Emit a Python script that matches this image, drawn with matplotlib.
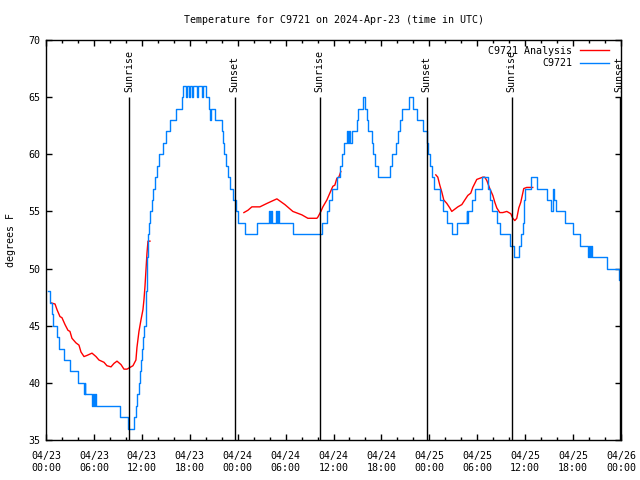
import numpy as np
import matplotlib
matplotlib.use("Agg")
import matplotlib.pyplot as plt
from matplotlib.ticker import MultipleLocator

plt.rcParams['font.family'] = ['DejaVu Sans Mono']
FS = 7.2

# hours since 04/23 00:00 UTC, temperature in F (change points, drawn as steps)
blue_hours = [0.25, 0.50, 0.69, 0.88, 1.38, 1.63, 2.25, 3.00, 4.01, 4.76, 4.84, 4.92,
              5.76, 5.88, 6.01, 6.13, 6.32, 9.26, 10.26, 11.01, 11.26, 11.45, 11.64,
              11.83, 11.95, 12.08, 12.20, 12.33, 12.52, 12.58, 12.64, 12.70, 12.77,
              12.89, 13.02, 13.27, 13.39, 13.64, 13.89, 14.14, 14.64, 15.02, 15.52,
              16.27, 17.02, 17.15, 17.52, 17.71, 17.90, 18.02, 18.27, 18.40, 18.90,
              19.02, 19.52, 19.65, 20.03, 20.40, 20.53, 20.65, 21.15, 22.03, 22.15,
              22.28, 22.53, 22.78, 23.03, 23.40, 23.78, 24.03, 24.90, 26.41, 27.91,
              28.04, 28.16, 28.29, 28.79, 28.91, 29.04, 29.16, 30.91, 34.54, 35.17,
              35.42, 35.79, 36.42, 36.80, 37.05, 37.30, 37.67, 37.80, 37.98, 38.11,
              38.30, 38.92, 39.05, 39.67, 39.92, 40.17, 40.30, 40.80, 40.93, 41.18,
              41.55, 43.05, 43.30, 43.80, 44.05, 44.31, 44.56, 45.43, 45.93, 46.43,
              47.18, 47.68, 47.81, 48.06, 48.31, 48.56, 49.31, 49.69, 50.19, 50.81,
              51.44, 52.69, 52.75, 52.82, 53.32, 53.69, 54.57, 55.32, 55.57, 55.82,
              56.45, 56.82, 58.07, 58.57, 59.20, 59.45, 59.70, 59.82, 59.95, 60.70,
              61.45, 62.70, 63.20, 63.45, 63.58, 63.83, 64.96, 65.96, 66.83, 67.83,
              68.02, 68.14, 68.21, 68.33, 70.21, 71.71, 71.96]
blue_temps = [48, 47, 46, 45, 44, 43, 42, 41, 40, 39, 40, 39,
              38, 39, 38, 39, 38, 37, 36, 37, 38, 39, 40,
              41, 42, 43, 44, 45, 46, 48, 50, 51, 53,
              54, 55, 56, 57, 58, 59, 60, 61, 62, 63,
              64, 65, 66, 65, 66, 65, 66, 65, 66, 65,
              66, 65, 66, 65, 64, 63, 64, 63, 62, 61,
              60, 59, 58, 57, 56, 55, 54, 53, 54, 55,
              54, 55, 54, 55, 54, 55, 54, 53, 54, 55,
              56, 57, 58, 59, 60, 61, 62, 61, 62, 61,
              62, 63, 64, 65, 64, 63, 62, 61, 60, 59,
              58, 59, 60, 61, 62, 63, 64, 65, 64, 63,
              62, 61, 60, 59, 58, 57, 56, 55, 54, 53,
              54, 55, 54, 55, 56, 57, 58, 57, 56, 55,
              54, 53, 52, 51, 52, 53, 54, 56, 57, 58,
              57, 56, 55, 57, 56, 55, 54, 53, 52, 51,
              52, 51, 52, 51, 50, 49, 49]

# analysis series, three separate pieces
red_hours = [
    [0.63, 1.13, 1.38, 1.75, 2.00, 2.38, 2.75, 3.00, 3.25, 3.75, 4.13, 4.38, 4.76,
     5.13, 5.76, 6.26, 6.63, 7.26, 7.63, 8.14, 8.51, 8.89, 9.39, 9.76, 10.14, 10.64,
     10.89, 11.26, 11.39, 11.64, 11.89, 12.14, 12.27, 12.39, 12.52, 12.64, 12.77, 13.02],
    [24.78, 25.28, 25.78, 26.78, 27.66, 28.91, 29.91, 30.91, 32.04, 32.79, 33.92,
     34.04, 34.42, 34.67, 35.17, 35.54, 35.92, 36.17, 36.42, 36.67, 36.92],
    [48.81, 49.06, 49.31, 49.56, 49.81, 50.19, 50.57, 50.81, 51.19, 51.57, 52.07,
     52.44, 52.82, 53.19, 53.44, 53.94, 54.32, 54.69, 54.94, 55.20, 55.57, 55.95,
     56.20, 56.45, 56.82, 57.20, 57.70, 58.20, 58.45, 58.70, 58.95, 59.20, 59.45,
     59.70, 59.82, 60.20, 60.95],
]
red_temps = [
    [47.0, 46.9, 46.4, 45.8, 45.7, 45.1, 44.6, 44.5, 43.9, 43.5, 43.3, 42.7, 42.3,
     42.4, 42.6, 42.3, 42.0, 41.8, 41.5, 41.4, 41.7, 41.9, 41.6, 41.2, 41.2, 41.4,
     41.5, 42.0, 43.1, 44.5, 45.5, 46.4, 47.3, 48.4, 49.9, 51.3, 52.4, 52.4],
    [54.9, 55.1, 55.4, 55.4, 55.7, 56.1, 55.6, 55.0, 54.7, 54.4, 54.4,
     54.5, 55.0, 55.4, 56.0, 56.6, 57.2, 57.3, 57.9, 58.0, 58.5],
    [58.2, 58.0, 57.3, 56.7, 56.0, 55.7, 55.3, 55.0, 55.2, 55.4, 55.6,
     56.0, 56.4, 56.6, 57.1, 57.8, 57.9, 58.0, 58.0, 57.7, 57.0, 56.4,
     55.8, 55.3, 54.9, 54.9, 55.0, 54.8, 54.4, 54.2, 54.4, 55.3, 55.8,
     56.6, 57.0, 57.1, 57.1],
]

sun_hours = [10.39, 23.65, 34.29, 47.68, 58.32, 71.84]
sun_names = ["Sunrise", "Sunset", "Sunrise", "Sunset", "Sunrise", "Sunset"]

tick_hours = list(range(0, 73, 6))
tick_labels = ["04/23\n00:00", "04/23\n06:00", "04/23\n12:00", "04/23\n18:00",
               "04/24\n00:00", "04/24\n06:00", "04/24\n12:00", "04/24\n18:00",
               "04/25\n00:00", "04/25\n06:00", "04/25\n12:00", "04/25\n18:00",
               "04/26\n00:00"]

fig = plt.figure(figsize=(6.4, 4.8), dpi=100)
ax = fig.add_axes([46 / 640, 40 / 480, 575 / 640, 400 / 480])

for i in range(len(red_hours)):
    ax.plot(red_hours[i], red_temps[i], color='#ff0000', lw=1,
            label='C9721 Analysis' if i == 0 else None)
ax.plot(blue_hours, blue_temps, color='#0080ff', lw=1, drawstyle='steps-post',
        label='C9721')

ax.vlines(sun_hours, 35, 65, color='black', lw=1)
for h, name in zip(sun_hours, sun_names):
    ax.annotate(name, (h, 65), xytext=(0, 3.5), textcoords='offset points',
                rotation=90, ha='center', va='bottom', fontsize=FS)

ax.set_xlim(0, 72)
ax.set_ylim(35, 70)
ax.set_xticks(tick_hours)
ax.set_xticklabels(tick_labels)
ax.xaxis.set_minor_locator(MultipleLocator(2))
ax.yaxis.set_major_locator(MultipleLocator(5))
ax.tick_params(which='both', direction='in', top=True, right=True, labelsize=FS)
ax.tick_params(which='major', length=4, width=1, pad=4)
ax.tick_params(axis='x', which='major', pad=8)
ax.tick_params(which='minor', length=2.5, width=1)
for s in ax.spines.values():
    s.set_linewidth(1)

ax.set_title("Temperature for C9721 on 2024-Apr-23 (time in UTC)", fontsize=FS, pad=12)
ax.set_ylabel("degrees F", fontsize=FS, labelpad=9)

ax.legend(loc='upper right', bbox_to_anchor=(0.995, 1.008), frameon=False, markerfirst=False,
          fontsize=FS, handlelength=2.9, handletextpad=0.8, labelspacing=0.25,
          borderpad=0.1, borderaxespad=0.8)

fig.savefig("out.png", dpi=100)
